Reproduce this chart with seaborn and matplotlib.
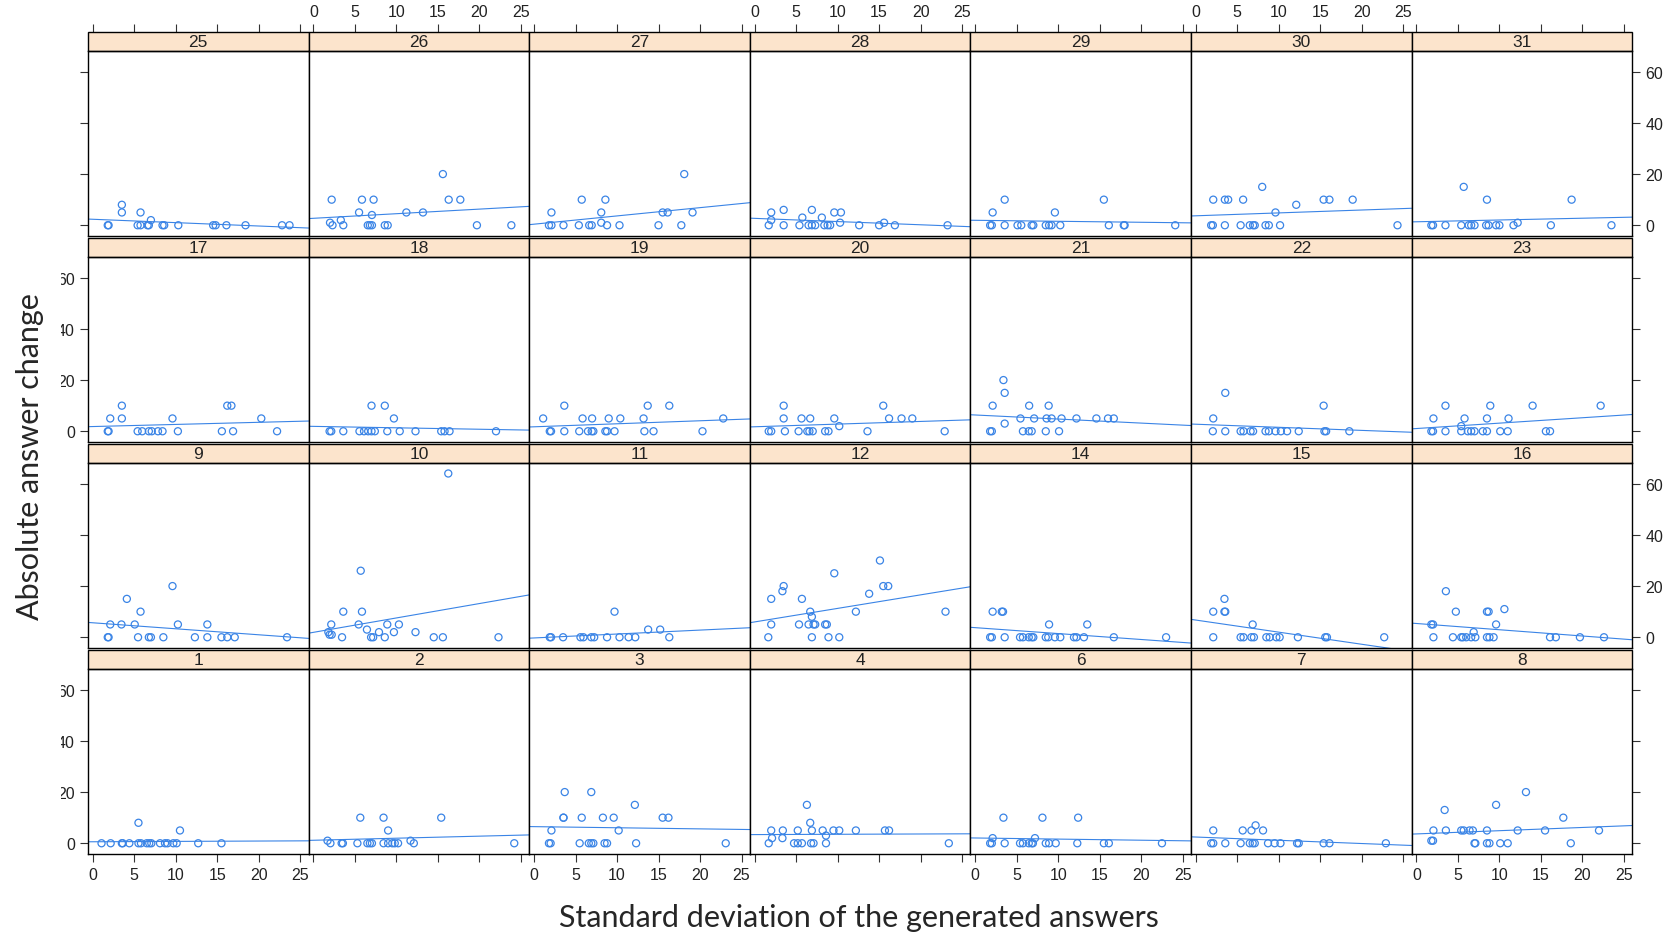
import seaborn as sns
import numpy as np
import pandas as pd
import matplotlib.pyplot as plt
from matplotlib.patches import Rectangle

#############################################################################
# lattice-style grid: absolute answer change vs SD of generated answers
#############################################################################

# panel order as drawn (top row first)
panel_rows = [[25, 26, 27, 28, 29, 30, 31],
              [17, 18, 19, 20, 21, 22, 23],
              [9, 10, 11, 12, 14, 15, 16],
              [1, 2, 3, 4, 6, 7, 8]]

x_ticks = [0, 5, 10, 15, 20, 25]
y_ticks = [0, 20, 40, 60]

x_label = "Standard deviation of the generated answers"
y_label = "Absolute answer change"

# row 1
sd_25 = [1.8, 1.9, 3.5, 3.5, 5.75, 5.4, 5.75, 6.6, 6.75, 7.0, 8.4, 8.6, 10.3, 14.5, 14.8, 16.1, 18.4, 22.8, 23.7]
chg_25 = [0, 0, 8, 5, 5, 0, 0, 0, 0, 2, 0, 0, 0, 0, 0, 0, 0, 0, 0]
sd_26 = [2.2, 2.0, 2.3, 3.3, 3.6, 5.85, 7.25, 5.5, 7.05, 6.55, 6.8, 7.05, 8.6, 8.95, 11.2, 13.2, 15.6, 16.3, 17.7, 19.7, 23.85]
chg_26 = [10, 1, 0, 2, 0, 10, 10, 5, 4, 0, 0, 0, 0, 0, 5, 5, 20, 10, 10, 0, 0]
sd_27 = [2.1, 1.8, 2.1, 3.55, 5.4, 5.75, 6.65, 6.95, 8.1, 8.6, 8.1, 8.8, 10.3, 15.0, 15.5, 16.1, 17.75, 18.1, 19.1]
chg_27 = [5, 0, 0, 0, 0, 10, 0, 0, 5, 10, 1, 0, 0, 0, 5, 5, 0, 20, 5]
sd_28 = [2.0, 3.5, 2.0, 1.7, 3.5, 5.4, 5.75, 6.9, 6.5, 6.9, 7.3, 8.1, 8.4, 8.8, 9.1, 9.6, 10.4, 10.3, 12.6, 15.0, 15.6, 16.9, 23.25]
chg_28 = [5, 6, 2, 0, 0, 0, 3, 6, 0, 0, 0, 3, 0, 0, 0, 5, 5, 1, 0, 0, 1, 0, 0]
sd_29 = [2.1, 3.55, 1.8, 2.0, 3.55, 5.1, 5.55, 6.8, 7.0, 8.5, 8.9, 9.2, 9.6, 10.25, 15.5, 16.1, 17.9, 18.0, 24.1]
chg_29 = [5, 10, 0, 0, 0, 0, 0, 0, 0, 0, 0, 0, 5, 0, 10, 0, 0, 0, 0]
sd_30 = [2.1, 3.5, 3.9, 5.7, 8.0, 9.6, 12.1, 15.4, 16.1, 18.9, 1.85, 2.05, 3.5, 5.4, 6.5, 6.9, 7.1, 8.4, 8.8, 10.15, 24.3]
chg_30 = [10, 10, 10, 10, 15, 5, 8, 10, 10, 10, 0, 0, 0, 0, 0, 0, 0, 0, 0, 0, 0]
sd_31 = [5.7, 8.5, 18.7, 1.8, 2.0, 3.5, 5.4, 6.3, 6.6, 7.0, 8.4, 8.7, 9.6, 10.0, 11.7, 12.2, 16.2, 23.5]
chg_31 = [15, 10, 10, 0, 0, 0, 0, 0, 0, 0, 0, 0, 0, 0, 0, 1, 0, 0]

# row 2
sd_17 = [1.8, 1.9, 2.1, 3.5, 3.5, 5.4, 5.95, 6.75, 7.1, 7.85, 8.4, 9.6, 10.25, 15.55, 16.9, 16.2, 16.7, 20.3, 22.2]
chg_17 = [0, 0, 5, 5, 10, 0, 0, 0, 0, 0, 0, 5, 0, 0, 0, 10, 10, 5, 0]
sd_18 = [1.95, 2.15, 3.6, 5.55, 6.1, 6.6, 7.0, 7.4, 7.0, 8.6, 9.7, 8.9, 10.4, 12.3, 15.4, 15.8, 16.4, 22.0]
chg_18 = [0, 0, 0, 0, 0, 0, 0, 0, 10, 10, 5, 0, 0, 0, 0, 0, 0, 0]
sd_19 = [1.1, 1.9, 2.05, 3.65, 3.65, 5.45, 6.5, 6.95, 7.15, 5.85, 7.0, 8.6, 8.8, 9.0, 10.4, 9.7, 13.2, 13.7, 13.3, 14.4, 16.3, 20.3, 22.8]
chg_19 = [5, 0, 0, 10, 0, 0, 0, 0, 0, 5, 5, 0, 0, 5, 5, 0, 5, 10, 0, 0, 10, 0, 5]
sd_20 = [3.5, 3.5, 5.65, 6.7, 9.6, 10.2, 1.7, 2.0, 3.65, 5.3, 6.35, 6.6, 7.0, 8.5, 8.9, 13.6, 15.5, 16.2, 17.7, 19.0, 22.9]
chg_20 = [10, 5, 5, 5, 5, 2, 0, 0, 0, 0, 0, 0, 0, 0, 0, 0, 10, 5, 5, 5, 0]
sd_21 = [1.8, 2.0, 2.1, 3.4, 3.55, 3.55, 5.45, 6.5, 8.85, 5.75, 6.45, 6.8, 7.1, 8.6, 9.2, 10.4, 8.5, 10.1, 12.2, 14.6, 16.0, 16.7]
chg_21 = [0, 0, 10, 20, 15, 3, 5, 10, 10, 0, 0, 0, 5, 5, 5, 5, 0, 0, 5, 5, 5, 5]
sd_22 = [2.1, 3.55, 2.05, 3.55, 5.4, 5.75, 6.6, 6.9, 8.4, 8.8, 9.6, 10.25, 11.0, 12.4, 15.4, 15.5, 15.7, 18.5]
chg_22 = [5, 15, 0, 0, 0, 0, 0, 0, 0, 0, 0, 0, 0, 0, 10, 0, 0, 0]
sd_23 = [3.5, 8.9, 14.0, 22.2, 2.05, 5.8, 8.5, 11.1, 5.4, 1.8, 2.0, 3.5, 5.4, 6.2, 6.6, 7.0, 8.0, 8.5, 10.1, 11.0, 15.6, 16.1]
chg_23 = [10, 10, 10, 10, 5, 5, 5, 5, 2, 0, 0, 0, 0, 0, 0, 0, 0, 0, 0, 0, 0, 0]

# row 3
sd_9 = [1.8, 1.9, 2.1, 3.45, 5.05, 4.1, 5.75, 9.6, 10.25, 13.8, 5.45, 6.75, 7.0, 8.5, 12.3, 13.8, 15.5, 16.2, 17.1, 23.4]
chg_9 = [0, 0, 5, 5, 5, 15, 10, 20, 5, 5, 0, 0, 0, 0, 0, 0, 0, 0, 0, 0]
sd_10 = [16.25, 5.7, 3.6, 5.85, 2.15, 5.45, 1.8, 1.95, 2.2, 3.45, 6.45, 6.95, 7.2, 8.6, 7.9, 8.9, 10.3, 9.7, 12.3, 14.5, 15.6, 22.3]
chg_10 = [64, 26, 10, 10, 5, 5, 2, 1, 1, 0, 3, 0, 0, 0, 2, 5, 5, 2, 2, 0, 0, 0]
sd_11 = [1.9, 2.05, 3.5, 5.6, 5.95, 6.9, 7.25, 8.8, 10.3, 11.4, 12.2, 9.7, 13.75, 15.2, 16.3]
chg_11 = [0, 0, 0, 0, 0, 0, 0, 0, 0, 0, 0, 10, 3, 3, 0]
sd_12 = [1.65, 2.0, 2.0, 3.35, 3.5, 5.7, 5.35, 6.7, 6.9, 6.5, 7.1, 7.3, 8.5, 8.7, 6.9, 8.9, 10.2, 9.6, 12.2, 13.8, 15.1, 15.5, 16.1, 23.0]
chg_12 = [0, 5, 15, 18, 20, 15, 5, 10, 8, 5, 5, 5, 5, 5, 0, 0, 0, 25, 10, 17, 30, 20, 20, 10]
sd_14 = [2.1, 3.2, 3.35, 1.8, 2.0, 3.55, 5.4, 5.75, 6.45, 6.8, 7.0, 8.5, 8.8, 9.6, 10.25, 8.9, 11.9, 12.2, 13.1, 13.5, 16.7, 23.0]
chg_14 = [10, 10, 10, 0, 0, 0, 0, 0, 0, 0, 0, 0, 0, 0, 0, 5, 0, 0, 0, 5, 0, 0]
sd_15 = [3.45, 2.1, 3.45, 3.55, 2.1, 6.85, 5.4, 5.75, 6.7, 7.0, 8.5, 8.9, 9.7, 10.1, 12.3, 15.6, 15.8, 22.7]
chg_15 = [15, 10, 10, 10, 0, 5, 0, 0, 0, 0, 0, 0, 0, 0, 0, 0, 0, 0]
sd_16 = [3.55, 4.75, 8.5, 8.7, 10.6, 1.8, 2.0, 9.6, 6.9, 2.05, 4.4, 5.4, 5.6, 6.0, 6.6, 7.1, 8.5, 8.8, 9.3, 16.1, 16.8, 19.7, 22.6]
chg_16 = [18, 10, 10, 10, 11, 5, 5, 5, 2, 0, 0, 0, 0, 0, 0, 0, 0, 0, 0, 0, 0, 0, 0]

# row 4
sd_1 = [1.05, 2.15, 3.5, 3.6, 4.4, 5.5, 5.5, 5.8, 6.5, 6.8, 7.05, 8.1, 8.7, 9.0, 9.7, 10.1, 10.5, 12.7, 15.5]
chg_1 = [0, 0, 0, 0, 0, 8, 0, 0, 0, 0, 0, 0, 0, 0, 0, 0, 5, 0, 0]
sd_2 = [1.7, 2.05, 3.4, 3.55, 5.3, 5.65, 6.5, 6.8, 7.05, 8.45, 9.0, 8.45, 9.0, 9.5, 9.8, 10.2, 11.7, 12.1, 15.4, 24.2]
chg_2 = [1, 0, 0, 0, 0, 10, 0, 0, 0, 10, 5, 0, 0, 0, 0, 0, 1, 0, 10, 0]
sd_3 = [1.8, 2.0, 2.1, 3.55, 3.55, 3.7, 5.5, 5.75, 6.9, 6.6, 6.9, 7.15, 8.3, 8.5, 8.8, 9.6, 10.2, 12.15, 12.3, 15.5, 16.2, 23.1]
chg_3 = [0, 0, 5, 10, 10, 20, 0, 10, 20, 0, 0, 0, 10, 0, 0, 10, 5, 15, 0, 10, 10, 0]
sd_4 = [6.3, 6.7, 2.0, 3.4, 5.2, 6.9, 8.2, 9.5, 10.2, 2.1, 3.35, 8.6, 1.7, 4.75, 5.2, 5.7, 6.8, 7.1, 8.6, 12.2, 15.7, 16.2, 23.4]
chg_4 = [15, 8, 5, 5, 5, 5, 5, 5, 5, 2, 2, 3, 0, 0, 0, 0, 0, 0, 0, 5, 5, 5, 0]
sd_6 = [3.4, 8.1, 12.4, 2.1, 7.2, 1.8, 2.0, 3.55, 5.4, 5.75, 6.45, 6.8, 6.95, 8.5, 8.9, 9.7, 12.3, 15.5, 16.1, 22.5]
chg_6 = [10, 10, 10, 2, 2, 0, 0, 0, 0, 0, 0, 0, 0, 0, 0, 0, 0, 0, 0, 0]
sd_7 = [2.1, 5.65, 6.7, 8.1, 7.2, 1.85, 2.1, 3.55, 5.4, 6.5, 6.85, 7.1, 8.7, 9.5, 10.2, 12.2, 12.4, 15.4, 16.1, 22.9]
chg_7 = [5, 5, 5, 5, 7, 0, 0, 0, 0, 0, 0, 0, 0, 0, 0, 0, 0, 0, 0, 0]
sd_8 = [1.8, 2.0, 3.4, 2.05, 3.55, 5.4, 5.7, 6.4, 6.8, 8.5, 7.0, 7.1, 8.5, 8.8, 10.1, 11.0, 9.6, 12.2, 13.2, 15.5, 17.7, 18.6, 22.0]
chg_8 = [1, 1, 13, 5, 5, 5, 5, 5, 5, 5, 0, 0, 0, 0, 0, 0, 15, 5, 20, 5, 10, 0, 5]

panels = {
    25: (sd_25, chg_25), 26: (sd_26, chg_26), 27: (sd_27, chg_27), 28: (sd_28, chg_28),
    29: (sd_29, chg_29), 30: (sd_30, chg_30), 31: (sd_31, chg_31),
    17: (sd_17, chg_17), 18: (sd_18, chg_18), 19: (sd_19, chg_19), 20: (sd_20, chg_20),
    21: (sd_21, chg_21), 22: (sd_22, chg_22), 23: (sd_23, chg_23),
    9: (sd_9, chg_9), 10: (sd_10, chg_10), 11: (sd_11, chg_11), 12: (sd_12, chg_12),
    14: (sd_14, chg_14), 15: (sd_15, chg_15), 16: (sd_16, chg_16),
    1: (sd_1, chg_1), 2: (sd_2, chg_2), 3: (sd_3, chg_3), 4: (sd_4, chg_4),
    6: (sd_6, chg_6), 7: (sd_7, chg_7), 8: (sd_8, chg_8),
}

sns.set_theme(style="white")
plt.rcParams['font.family'] = ['Liberation Sans Narrow', 'Liberation Sans', 'DejaVu Sans']

blue = '#3a84e6'
strip_col = '#fce4cc'
xlim = (-0.58, 26.0)
ylim = (-4.2, 68.1)

W, H = 1675, 937
fig = plt.figure(figsize=(W / 100, H / 100), dpi=100)

left0, top0 = 88, 33       # px
pw, ph, sh, rh = 220.6, 185, 19, 206

tick_kw = dict(direction='out', length=6, width=0.8, color='#333333',
               labelsize=11.5, labelcolor='#222222', pad=3.5)

for r, row in enumerate(panel_rows):
    for c, key in enumerate(row):
        x0 = (left0 + c * pw) / W
        y0 = 1 - (top0 + r * rh + sh + ph) / H
        ax = fig.add_axes([x0, y0, pw / W, ph / H])
        sd, chg = panels[key]
        ax.set_xlim(xlim)
        ax.set_ylim(ylim)
        sns.regplot(x=np.array(sd), y=np.array(chg), ax=ax, ci=None, truncate=False,
                    color=blue,
                    scatter_kws=dict(s=26, facecolors='none', linewidths=0.9, alpha=1),
                    line_kws=dict(lw=0.8))
        ax.set_xlim(xlim)
        ax.set_ylim(ylim)
        ax.set_xlabel('')
        ax.set_ylabel('')
        ax.set_xticks(x_ticks)
        ax.set_yticks(y_ticks)
        for sp in ax.spines.values():
            sp.set_color('black')
            sp.set_linewidth(1.0)
        ax.tick_params(axis='both', **tick_kw,
                       top=False, bottom=(r == 3), left=(c == 0), right=(c == 6),
                       labeltop=False, labelbottom=(r == 3 and c % 2 == 0),
                       labelleft=(c == 0 and r % 2 == 1),
                       labelright=(c == 6 and r % 2 == 0))

        # strip on top of the panel
        frac = sh / ph
        ax.add_patch(Rectangle((0, 1), 1, frac, transform=ax.transAxes, clip_on=False,
                               facecolor=strip_col, edgecolor='black', lw=1.0))
        ax.text(0.5, 1 + frac / 2, str(key), transform=ax.transAxes, ha='center',
                va='center', fontsize=12.5, color='#222222')

        # top axis sits above the strip in the first row
        if r == 0:
            sec = ax.secondary_xaxis(1 + frac)
            sec.set_xticks(x_ticks)
            sec.spines['top'].set_visible(False)
            sec.tick_params(**tick_kw, labeltop=(c % 2 == 1))

# the original picture is cropped at its left edge
fig.patches.append(Rectangle((0, 0), 61 / W, 1, transform=fig.transFigure,
                             facecolor='white', edgecolor='none', zorder=5))

fig.text(859 / W, 1 - 918 / H, x_label, ha='center', va='center', fontsize=22,
         family=['Lato', 'DejaVu Sans'])
fig.text(30 / W, 1 - 457 / H, y_label, ha='center', va='center', rotation=90,
         fontsize=22, family=['Lato', 'DejaVu Sans'], zorder=6)

plt.savefig('out.png', dpi=100)
